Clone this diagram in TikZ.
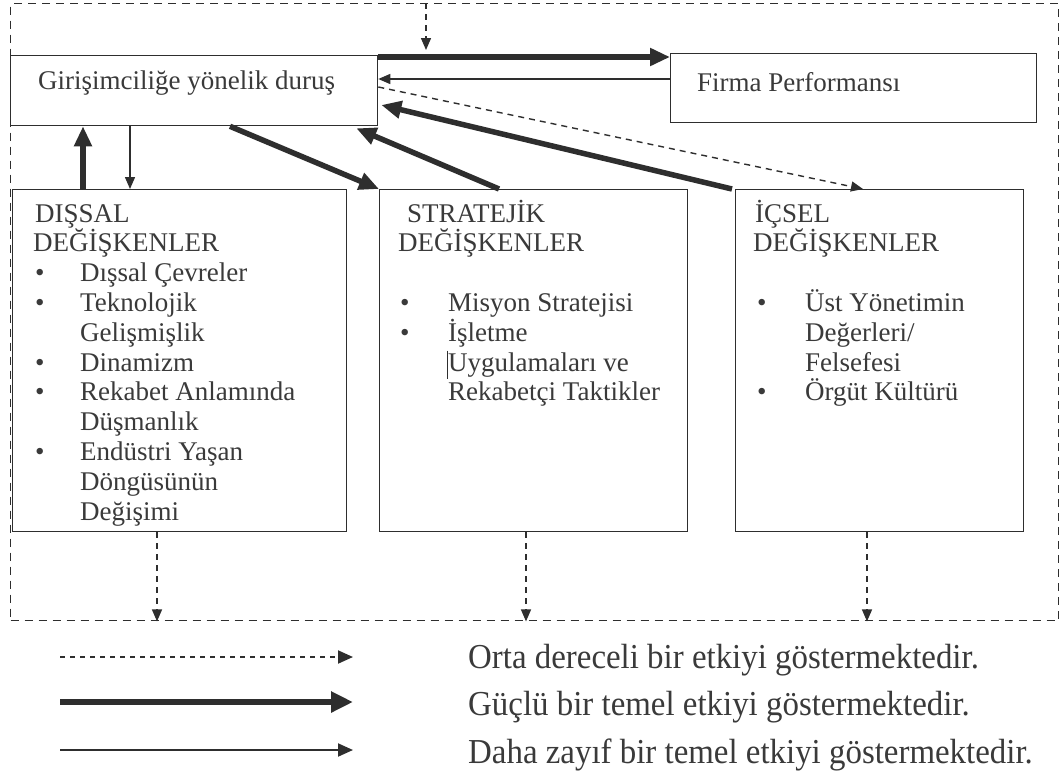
\documentclass[tikz,border=0pt]{standalone}
\usepackage{fontspec}
\setmainfont{Liberation Serif}
\usetikzlibrary{arrows.meta,calc}
\definecolor{ink}{HTML}{2E2E2E}
\definecolor{tink}{HTML}{3A3A3A}
\begin{document}
\begin{tikzpicture}[x=1pt,y=-1pt,
  box/.style={draw=ink, line width=1.3pt, anchor=north west, inner sep=0pt},
  frm/.style={draw=ink, line width=1.4pt, dash pattern=on 8pt off 6pt, anchor=north west, inner sep=0pt},
  txt/.style={anchor=base west, inner sep=0pt, text=tink, font=\fontsize{27}{30}\selectfont},
  ttl/.style={anchor=west, inner sep=0pt, text=tink, font=\fontsize{27}{30}\selectfont},
  lgt/.style={anchor=west, inner sep=0pt, text=tink, font=\fontsize{35}{40}\selectfont},
  strong/.style={draw=ink, line width=5.5pt, -{Triangle[length=20pt,width=17pt]}},
  weak/.style={draw=ink, line width=1.4pt, -{Triangle[length=12pt,width=10pt]}},
  moderate/.style={draw=ink, line width=1.4pt, dash pattern=on 6pt off 5pt, -{Triangle[length=12pt,width=10pt]}},
  lstrong/.style={draw=ink, line width=6pt, -{Triangle[length=22pt,width=20pt]}},
  lweak/.style={draw=ink, line width=2pt, -{Triangle[length=15pt,width=13pt]}},
  lmoderate/.style={draw=ink, line width=2pt, dash pattern=on 5pt off 5pt, -{Triangle[length=15pt,width=13pt]}},
]
\useasboundingbox (0,0) rectangle (1060,774);
\fill[white] (0,0) rectangle (1060,774);

% frame
\node[frm, minimum width=1048pt, minimum height=617pt] (frame) at (10,3) {};

% boxes
\node[box, minimum width=367pt, minimum height=70pt] (gir) at (10,55) {};
\node[box, minimum width=366pt, minimum height=69pt] (firma) at (670,53) {};
\node[box, minimum width=334pt, minimum height=342pt] (dis) at (12,189) {};
\node[box, minimum width=308pt, minimum height=342pt] (str) at (379,189) {};
\node[box, minimum width=288pt, minimum height=342pt] (ics) at (735,189) {};

% box titles
\node[ttl] (tgir) at (38,83) {Girişimciliğe yönelik duruş};
\node[ttl] (tfirma) at (697,82) {Firma Performansı};

% Dissal
\node[txt] (d0) at (35,222) {DIŞSAL};
\node[txt] (d1) at (33,251.8) {DEĞİŞKENLER};
\node[txt] (db2) at (35,281.6) {•};
\node[txt] (d2) at (80,281.6) {Dışsal Çevreler};
\node[txt] (db3) at (35,311.4) {•};
\node[txt] (d3) at (80,311.4) {Teknolojik};
\node[txt] (d4) at (80,341.2) {Gelişmişlik};
\node[txt] (db5) at (35,371) {•};
\node[txt] (d5) at (80,371) {Dinamizm};
\node[txt] (db6) at (35,400.8) {•};
\node[txt] (d6) at (80,400.8) {Rekabet Anlamında};
\node[txt] (d7) at (80,430.6) {Düşmanlık};
\node[txt] (db8) at (35,460.4) {•};
\node[txt] (d8) at (80,460.4) {Endüstri Yaşan};
\node[txt] (d9) at (80,490.2) {Döngüsünün};
\node[txt] (d10) at (80,520) {Değişimi};

% Stratejik
\node[txt] (s0) at (407,222) {STRATEJİK};
\node[txt] (s1) at (398,251.8) {DEĞİŞKENLER};
\node[txt] (sb3) at (400,311.4) {•};
\node[txt] (s3) at (448,311.4) {Misyon Stratejisi};
\node[txt] (sb4) at (400,341.2) {•};
\node[txt] (s4) at (448,341.2) {İşletme};
\node[txt] (s5) at (448,371) {Uygulamaları ve};
\node[txt] (s6) at (448,400.8) {Rekabetçi Taktikler};
\draw[ink, line width=0.8pt] ($(s5.west)+(-1,-14)$) -- ($(s5.west)+(-1,14)$);

% Icsel
\node[txt] (i0) at (755,222) {İÇSEL};
\node[txt] (i1) at (753,251.8) {DEĞİŞKENLER};
\node[txt] (ib3) at (757,311.4) {•};
\node[txt] (i3) at (805,311.4) {Üst Yönetimin};
\node[txt] (i4) at (805,341.2) {Değerleri/};
\node[txt] (i5) at (805,371) {Felsefesi};
\node[txt] (ib6) at (757,400.8) {•};
\node[txt] (i6) at (805,400.8) {Örgüt Kültürü};

% connectors
\draw[moderate] ($(frame.north west)+(416,0)$) -- ($(frame.north west)+(416,47)$);
\draw[strong] ($(gir.north east)+(0,2)$) -- ($(firma.north west)+(0,4)$);
\draw[weak] ($(firma.north west)+(0,26)$) -- ($(gir.north east)+(0,24)$);
\draw[moderate] ($(gir.north east)+(0,32)$) -- ($(ics.north west)+(128,0)$);
\draw[strong] ($(ics.north west)+(-3,0)$) -- ($(gir.north east)+(3,50)$);
\draw[strong] ($(str.north west)+(120,0)$) -- ($(gir.south east)+(-22,2)$);
\draw[strong] ($(gir.south west)+(220,0)$) -- (str.north west);
\draw[strong] ($(dis.north west)+(71,0)$) -- ($(gir.south west)+(73,0)$);
\draw[weak] ($(gir.south west)+(120,0)$) -- ($(dis.north west)+(118,0)$);

\draw[moderate] ($(dis.south west)+(145,0)$) -- ($(frame.south west)+(147,0)$);
\draw[moderate] ($(str.south west)+(147,0)$) -- ($(frame.south west)+(516,0)$);
\draw[moderate] ($(ics.south west)+(132,0)$) -- ($(frame.south west)+(857,0)$);

% legend
\coordinate (l1s) at (60,657); \coordinate (l1e) at (353,657);
\coordinate (l2s) at (60,702); \coordinate (l2e) at (353,702);
\coordinate (l3s) at (60,750); \coordinate (l3e) at (353,750);
\draw[lmoderate] (l1s) -- (l1e);
\draw[lstrong] (l2s) -- (l2e);
\draw[lweak] (l3s) -- (l3e);
\node[lgt] (lt1) at (468,660) {\scalebox{0.94}[1]{Orta dereceli bir etkiyi göstermektedir.}};
\node[lgt] (lt2) at (468,707) {\scalebox{0.94}[1]{Güçlü bir temel etkiyi göstermektedir.}};
\node[lgt] (lt3) at (468,755) {\scalebox{0.94}[1]{Daha zayıf bir temel etkiyi göstermektedir.}};
\end{tikzpicture}
\end{document}
